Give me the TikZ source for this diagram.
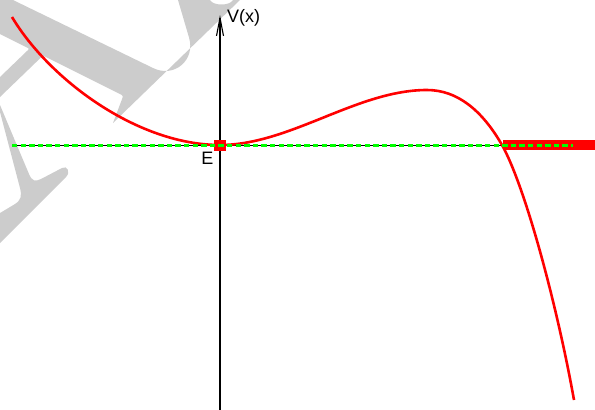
\documentclass[tikz,border=0pt]{standalone}
\usepackage{fontspec}
\setmainfont{Liberation Sans}
\usetikzlibrary{arrows.meta}
\definecolor{wmgrey}{RGB}{204,204,204}
\definecolor{vred}{RGB}{255,0,0}
\definecolor{vgreen}{RGB}{0,255,0}
\tikzset{
  wm/.style={fill=wmgrey},
  curve/.style={vred, line width=2.6pt},
  axisline/.style={black, line width=1.1pt},
  baseline/.style={black, line width=1pt},
  greendash/.style={vgreen, line width=3pt, dash pattern=on 5.3pt off 3.3pt},
  redbar/.style={vred, line width=10pt},
  lab/.style={inner sep=0pt, font=\fontsize{18}{20}\selectfont}
}
\begin{document}
\begin{tikzpicture}[x=1pt,y=-1pt]
\useasboundingbox (0,0) rectangle (595,410);
% watermark shapes
\fill[wm] (0,0) -- (13,0) -- (153,68) .. controls (174.2,78.4) and (195.8,60.1) .. (189,37.5)
  -- (178,0) -- (210,0) .. controls (213,6) and (230,6) .. (233,0) -- (240,0) -- (113,123)
  -- (121.5,100.5) .. controls (123.4,95.6) .. (118.5,93.3) -- (47,57.5) .. controls (43,55.5) .. (40,58.4)
  -- (0,97) -- (0,77) -- (27,51) .. controls (29.5,48.7) .. (25,46.5) -- (0,34) -- cycle;
\fill[wm] (0,105) -- (29,174) .. controls (32,181) and (35,182) .. (41,179) -- (62,168)
  .. controls (67,165) and (71,172) .. (66,177) -- (0,243) -- (0,213) -- (15,204)
  .. controls (21,200) and (22,196) .. (20,188) -- (0,112) -- cycle;
% coordinates
\coordinate (axbot) at (220,410);
\coordinate (axtop) at (220,15);
\coordinate (hl) at (12,145);
\coordinate (hr) at (573,145);
\coordinate (bl) at (503,145);
\coordinate (br) at (595,145);
\coordinate (cstart) at (12,17);
\coordinate (cmin) at (220,145);
\coordinate (cmax) at (427,90);
\coordinate (ccross) at (502,145);
\coordinate (cend) at (574,400);
% axis and base line
\draw[axisline, -{Straight Barb[length=18pt,width=7pt]}] (axbot) -- (axtop);
\draw[baseline] (hl) -- (hr);
\draw[redbar] (bl) -- (br);
% curve
\draw[curve] (cstart) .. controls (49,79) and (137,145) .. (cmin)
  .. controls (290,145) and (357,90) .. (cmax)
  .. controls (457,90) and (482,110) .. (ccross)
  .. controls (525,186) and (557,305) .. (cend);
\node[fill=vred, minimum width=12pt, minimum height=11pt, inner sep=0pt] (sq) at (cmin) {};
\draw[greendash] (hl) -- (hr);
% labels
\node[lab, anchor=west] (vlab) at (227,18) {V(x)};
\node[lab] (elab) at (207.5,158.5) {E};
\end{tikzpicture}
\end{document}
